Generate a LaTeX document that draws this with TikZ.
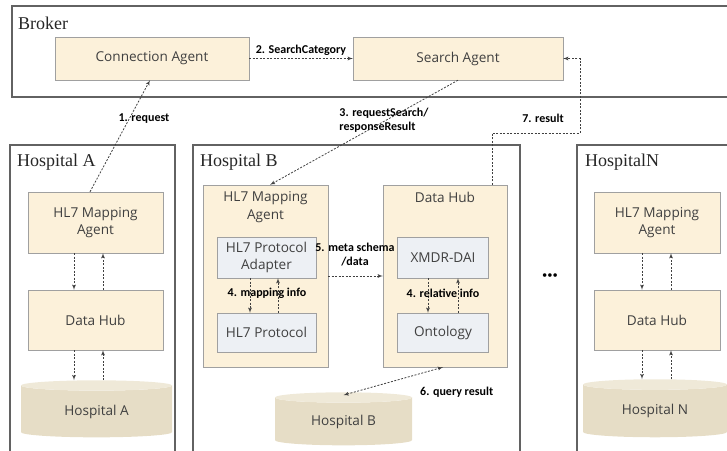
\documentclass[tikz,border=0pt]{standalone}
\usepackage{fontspec}
\setmainfont{Liberation Serif}
\newfontfamily\boxfont{Open Sans}
\newfontfamily\msgfont{Carlito}
\usetikzlibrary{positioning, arrows, shapes.geometric}
\definecolor{agentfill}{HTML}{FCF1DA}
\definecolor{partfill}{HTML}{EDF0F4}
\definecolor{dbfill}{HTML}{E6DDC6}
\definecolor{dbtop}{HTML}{EFE9D8}
\definecolor{framecol}{HTML}{626262}
\definecolor{edgecol}{HTML}{A0A0A0}
\tikzset{>=latex',
  frame/.style={draw=framecol, line width=1.1pt},
  title/.style={anchor=west, inner sep=0pt, text=black!85, font=\fontsize{18}{20}\selectfont},
  agent/.style={draw=edgecol, fill=agentfill, inner sep=0pt, align=center, text=black!75, font=\boxfont\fontsize{13.6}{17.5}\selectfont},
  part/.style={agent, fill=partfill},
  db/.style={cylinder, shape border rotate=90, aspect=0.16, cylinder uses custom fill, cylinder body fill=dbfill, cylinder end fill=dbtop, inner sep=0pt, text=black!75, font=\boxfont\fontsize{13.6}{17.5}\selectfont},
  msg/.style={->, draw=black!75, line width=0.8pt, dash pattern=on 2pt off 1.5pt},
  note/.style={inner sep=0pt, align=center, font=\msgfont\bfseries\fontsize{12}{14}\selectfont}
}

\begin{document}
\begin{tikzpicture}[x=1pt, y=-1pt]
    \clip (0,0) rectangle (727,450);
    % frames
    \draw[frame] (12,6) rectangle (740,97);
    \draw[frame] (10,145) rectangle (175,470);
    \draw[frame] (193,145) rectangle (520,470);
    \draw[frame] (577,145) rectangle (740,470);
    \node[title] (broker) at (18,23) {Broker};
    \node[title] (title-a) at (17,162) {Hospital A};
    \node[title] (title-b) at (200,162) {Hospital B};
    \node[title] (title-n) at (585,162) {HospitalN};

    % broker
    \node[agent, minimum width=194pt, minimum height=43pt] (connection-agent) at (152,58.5) {Connection Agent};
    \node[agent, minimum width=210pt, minimum height=43pt] (search-agent) at (458,58.5) {Search Agent};

    % hospital A
    \node[agent, minimum width=135pt, minimum height=61pt] (mapping-a) at (95.5,222.5) {HL7 Mapping\\Agent};
    \node[agent, minimum width=135pt, minimum height=60pt] (hub-a) at (95.5,320) {Data Hub};
    \node[db, minimum width=151pt, minimum height=57pt] (db-a) at (96.5,411.5) {Hospital A};

    % hospital B
    \node[agent, minimum width=125pt, minimum height=182pt] (mapping-b) at (265.5,276) {};
    \node[agent, draw=none, fill=none, below=7pt of mapping-b.north] (mapping-b-title) {HL7 Mapping\\Agent};
    \node[part, minimum width=99pt, minimum height=41pt] (adapter) at (266.5,257.5) {HL7 Protocol\\Adapter};
    \node[part, minimum width=99pt, minimum height=39pt] (protocol) at (266.5,332.5) {HL7 Protocol};
    \node[agent, minimum width=124pt, minimum height=182pt] (hub-b) at (445,276) {};
    \node[agent, draw=none, fill=none, below=7pt of hub-b.north] (hub-b-title) {Data Hub};
    \node[part, minimum width=91pt, minimum height=41pt] (xmdr) at (443,257.5) {XMDR-DAI};
    \node[part, minimum width=91pt, minimum height=39pt] (ontology) at (443,332.5) {Ontology};
    \node[db, minimum width=137pt, minimum height=53pt] (db-b) at (343.5,421.5) {Hospital B};

    \node (more) at (550,277) {\fontsize{15}{15}\selectfont\textbullet\textbullet\textbullet};

    % hospital N
    \node[agent, minimum width=126pt, minimum height=61pt] (mapping-n) at (657,222.5) {HL7 Mapping\\Agent};
    \node[agent, minimum width=126pt, minimum height=60pt] (hub-n) at (657,320) {Data Hub};
    \node[db, minimum width=144pt, minimum height=58pt] (db-n) at (655,411) {Hospital N};

    % messages
    \draw[msg] (connection-agent) -- node[note, above=3pt] (msg-2) {2. SearchCategory} (search-agent);
    \draw[msg] ([xshift=-5.5pt]mapping-a.north) -- ([xshift=-2pt]connection-agent.south);
    \node[note] (msg-1) at (144,119) {1. request};
    \draw[msg] (search-agent.south) -- ([xshift=4.5pt]mapping-b.north);
    \node[note, align=left] (msg-3) at (384,120) {3. requestSearch/\\responseResult};
    \draw[msg] ([xshift=47pt]hub-b.north) |- (580,133) |- (search-agent.east);
    \node[note] (msg-7) at (543,118) {7. result};
    \draw[msg] (mapping-b) -- (hub-b);
    \node[note] (msg-5) at (355,255) {5. meta schema\\/data};
    \draw[msg, <->] ([xshift=-2pt]hub-b.south) -- ([yshift=-3pt]db-b.north);
    \node[note, anchor=west] (msg-6) at (420,392) {6. query result};

    % hospital B inner links
    \draw[msg] ([xshift=-16.5pt]adapter.south) -- ([xshift=-16.5pt]protocol.north);
    \draw[msg] ([xshift=11.5pt]protocol.north) -- ([xshift=11.5pt]adapter.south);
    \node[note] (msg-4a) at (267,293) {4. mapping info};
    \draw[msg] ([xshift=-15pt]xmdr.south) -- ([xshift=-15pt]ontology.north);
    \draw[msg] ([xshift=15pt]ontology.north) -- ([xshift=15pt]xmdr.south);
    \node[note] (msg-4b) at (443,293) {4. relative info};

    % hospital A and N links
    \draw[msg] ([xshift=-21.5pt]mapping-a.south) -- ([xshift=-21.5pt]hub-a.north);
    \draw[msg] ([xshift=7.5pt]hub-a.north) -- ([xshift=7.5pt]mapping-a.south);
    \draw[msg] ([xshift=-21.5pt]hub-a.south) -- ([xshift=-21.5pt]hub-a.south |- db-a.north);
    \draw[msg] ([xshift=7.5pt]hub-a.south |- db-a.north) -- ([xshift=7.5pt]hub-a.south);
    \draw[msg] ([xshift=-15pt]mapping-n.south) -- ([xshift=-15pt]hub-n.north);
    \draw[msg] ([xshift=14pt]hub-n.north) -- ([xshift=14pt]mapping-n.south);
    \draw[msg] ([xshift=-15pt]hub-n.south) -- ([xshift=-15pt]hub-n.south |- db-n.north);
    \draw[msg] ([xshift=14pt]hub-n.south |- db-n.north) -- ([xshift=14pt]hub-n.south);
\end{tikzpicture}
\end{document}
